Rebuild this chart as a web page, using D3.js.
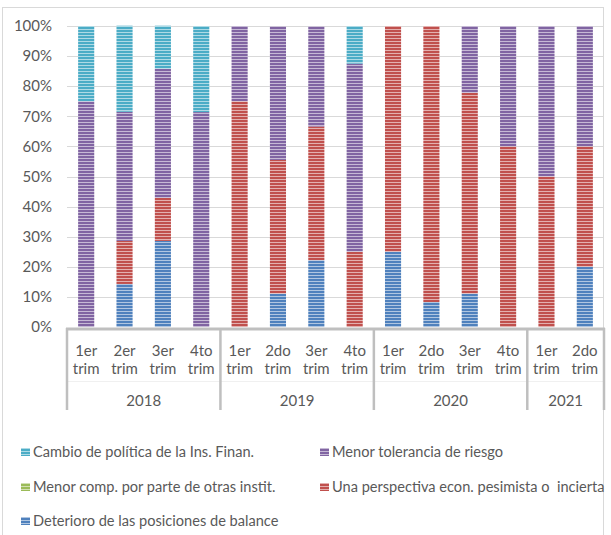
<!DOCTYPE html>
<html>
<head>
<meta charset="utf-8">
<script src="https://cdn.jsdelivr.net/npm/d3@7"></script>
<style>
  body { margin: 0; background: #fff; }
  text { font-family: Lato, "Open Sans", sans-serif; fill: #595959; }
</style>
</head>
<body>
<div id="chart"></div>
<script>
// quarters and the year they belong to
var quarters = ['1er trim', '2er trim', '3er trim', '4to trim',
  '1er trim', '2do trim', '3er trim', '4to trim',
  '1er trim', '2do trim', '3er trim', '4to trim',
  '1er trim', '2do trim']
var years = ['2018', '2018', '2018', '2018',
  '2019', '2019', '2019', '2019',
  '2020', '2020', '2020', '2020',
  '2021', '2021']
var yTicks = [0, 10, 20, 30, 40, 50, 60, 70, 80, 90, 100]

// series values in percent, bottom of the stack first
var deterioro = [0, 14.3, 28.6, 0, 0, 11.1, 22.2, 0, 25, 8.3, 11.1, 0, 0, 20]
var perspectiva = [0, 14.3, 14.3, 0, 75, 44.4, 44.4, 25, 75, 91.7, 66.7, 60, 50, 40]
var menorComp = [0, 0, 0, 0, 0, 0, 0, 0, 0, 0, 0, 0, 0, 0]
var tolerancia = [75, 42.9, 42.9, 71.4, 25, 44.4, 33.3, 62.5, 0, 0, 22.2, 40, 50, 40]
var cambio = [25, 28.6, 14.3, 28.6, 0, 0, 0, 12.5, 0, 0, 0, 0, 0, 0]

var series = [
  { key: 'deterioro', name: 'Deterioro de las posiciones de balance', color: '#4f81bd', values: deterioro },
  { key: 'perspectiva', name: 'Una perspectiva econ. pesimista o  incierta', color: '#c0504d', values: perspectiva },
  { key: 'comp', name: 'Menor comp. por parte de otras instit.', color: '#9bbb59', values: menorComp },
  { key: 'tolerancia', name: 'Menor tolerancia de riesgo', color: '#8064a2', values: tolerancia },
  { key: 'cambio', name: 'Cambio de política de la Ins. Finan.', color: '#4bacc6', values: cambio }
]

// legend order as in the picture (two columns, row by row)
var legendOrder = ['cambio', 'tolerancia', 'comp', 'perspectiva', 'deterioro']

var W = 611, H = 535
var plot = { left: 67, right: 604, top: 26, bottom: 328 }

var svg = d3.select('#chart').append('svg')
  .attr('width', W)
  .attr('height', H)

// outer frame
svg.append('rect')
  .attr('x', 2.5).attr('y', 7.5)
  .attr('width', 601).attr('height', 540)
  .attr('fill', 'none')
  .attr('stroke', '#d9d9d9')

// striped fills, one per series
var defs = svg.append('defs')
series.forEach(function(s) {
  var p = defs.append('pattern')
    .attr('id', 'pat-' + s.key)
    .attr('patternUnits', 'userSpaceOnUse')
    .attr('width', 4).attr('height', 3)
  p.append('rect').attr('width', 4).attr('height', 3).attr('fill', s.color)
  p.append('rect').attr('y', 2).attr('width', 4).attr('height', 1)
    .attr('fill', '#fff').attr('opacity', 0.55)
})

var idx = d3.range(quarters.length)

var x = d3.scaleBand()
  .domain(idx)
  .range([plot.left, plot.right])
  .paddingInner(0.58)
  .paddingOuter(0.29)

var y = d3.scaleLinear()
  .domain([0, 100])
  .range([plot.bottom - 1, plot.top])

// gridlines
svg.append('g')
  .selectAll('line')
  .data(yTicks.slice(1))
  .enter().append('line')
  .attr('x1', plot.left).attr('x2', plot.right)
  .attr('y1', d => Math.round(y(d)) + 0.5)
  .attr('y2', d => Math.round(y(d)) + 0.5)
  .attr('stroke', '#d9d9d9')

// y labels
svg.append('g')
  .selectAll('text')
  .data(yTicks)
  .enter().append('text')
  .attr('x', 52)
  .attr('y', d => y(d))
  .attr('dy', '0.35em')
  .attr('text-anchor', 'end')
  .attr('font-size', 15)
  .text(d => d + '%')

// stacked bars
var rows = idx.map(i => {
  var r = { i: i }
  series.forEach(s => { r[s.key] = s.values[i] })
  return r
})
var stacked = d3.stack().keys(series.map(s => s.key))(rows)

svg.append('g')
  .selectAll('g')
  .data(stacked)
  .enter().append('g')
  .attr('fill', d => 'url(#pat-' + d.key + ')')
  .selectAll('rect')
  .data(d => d.filter(v => v[1] - v[0] > 0))
  .enter().append('rect')
  .attr('x', d => x(d.data.i))
  .attr('width', x.bandwidth())
  .attr('y', d => y(d[1]))
  .attr('height', d => y(d[0]) - y(d[1]))

// category axis: quarter labels
var step = x.step()
var qLabels = svg.append('g')
  .selectAll('text')
  .data(idx)
  .enter().append('text')
  .attr('text-anchor', 'middle')
  .attr('font-size', 15)
qLabels.append('tspan')
  .attr('x', d => x(d) + x.bandwidth() / 2)
  .attr('y', 356)
  .text(d => quarters[d].split(' ')[0])
qLabels.append('tspan')
  .attr('x', d => x(d) + x.bandwidth() / 2)
  .attr('y', 374)
  .text(d => quarters[d].split(' ')[1])

// year groups
var groups = []
years.forEach((yr, i) => {
  var last = groups[groups.length - 1]
  if (last && last.year === yr) last.end = i
  else groups.push({ year: yr, start: i, end: i })
})

var axisColor = '#bfbfbf'
var groupEdge = d => plot.left + d * step

svg.append('line')
  .attr('x1', plot.left).attr('x2', plot.right)
  .attr('y1', 381.5).attr('y2', 381.5)
  .attr('stroke', '#f0f0f0')

svg.append('g')
  .selectAll('line')
  .data(groups.map(g => g.start).concat([quarters.length]))
  .enter().append('line')
  .attr('x1', d => groupEdge(d)).attr('x2', d => groupEdge(d))
  .attr('y1', 328).attr('y2', 410)
  .attr('stroke', axisColor)
  .attr('stroke-width', 2.5)

svg.append('line')
  .attr('x1', plot.left - 1).attr('x2', plot.right + 1)
  .attr('y1', 329).attr('y2', 329)
  .attr('stroke', axisColor)
  .attr('stroke-width', 3)

svg.append('g')
  .selectAll('text')
  .data(groups)
  .enter().append('text')
  .attr('x', d => (groupEdge(d.start) + groupEdge(d.end + 1)) / 2)
  .attr('y', 406)
  .attr('text-anchor', 'middle')
  .attr('font-size', 15)
  .text(d => d.year)

// legend
var legendPos = [[21, 452], [320, 452], [21, 487], [320, 487], [21, 521]]
var legend = svg.append('g')
  .selectAll('g')
  .data(legendOrder.map(k => series.find(s => s.key === k)))
  .enter().append('g')
  .attr('transform', (d, i) => 'translate(' + legendPos[i][0] + ',' + legendPos[i][1] + ')')
legend.append('rect')
  .attr('x', 0).attr('y', -4)
  .attr('width', 9).attr('height', 8)
  .attr('fill', d => 'url(#pat-' + d.key + ')')
legend.append('text')
  .attr('x', 12)
  .attr('dy', '0.35em')
  .attr('font-size', 14.6)
  .style('white-space', 'pre')
  .text(d => d.name)
</script>
</body>
</html>
